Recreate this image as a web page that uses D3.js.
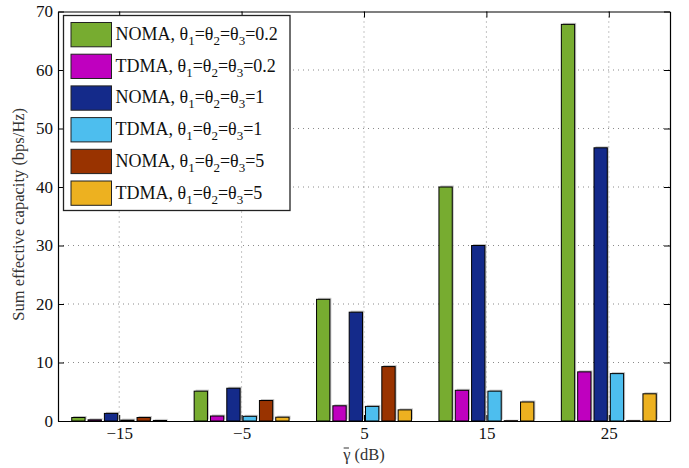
<!DOCTYPE html>
<html>
<head>
<meta charset="utf-8">
<script src="https://cdn.jsdelivr.net/npm/d3@7"></script>
<style>
  body { margin: 0; background: #fff; }
  svg text { font-family: "Liberation Serif", "Times New Roman", Times, serif; }
</style>
</head>
<body>
<svg id="chart" width="689" height="468"></svg>
<script>
// x positions (dB) and the six series
const gammas = [-15, -5, 5, 15, 25]
const noma02 = [0.6, 5.1, 20.8, 40.0, 67.8]
const tdma02 = [0.2, 0.85, 2.6, 5.25, 8.4]
const noma1  = [1.3, 5.6, 18.6, 30.0, 46.7]
const tdma1  = [0.15, 0.8, 2.5, 5.1, 8.1]
const noma5  = [0.6, 3.5, 9.3, 0.05, 0.05]
const tdma5  = [0.1, 0.65, 1.9, 3.25, 4.65]
const schemes = ["NOMA", "TDMA", "NOMA", "TDMA", "NOMA", "TDMA"]
const thetas  = ["0.2", "0.2", "1", "1", "5", "5"]
const colors  = ["#77AC30", "#BF00BF", "#142A8A", "#4DBEEE", "#993300", "#EDB120"]
const yTicks = [0, 10, 20, 30, 40, 50, 60, 70]
const allSeries = [noma02, tdma02, noma1, tdma1, noma5, tdma5]

const serif = "'Liberation Serif', 'Times New Roman', Times, serif"
const margin = {top: 11.5, right: 19, bottom: 47, left: 58}
const width = 689 - margin.left - margin.right,
      height = 468 - margin.top - margin.bottom

const svg = d3.select("#chart")
const chart = svg.append("g")
    .attr("transform", "translate(" + margin.left + "," + margin.top + ")")

let x = d3.scaleLinear().domain([-20, 30]).range([0, width])
let y = d3.scaleLinear().domain([0, 70]).range([height, 0])

// matlab style grouped bars: group takes 0.8 of the spacing
let groupW = 0.8 * (x(10) - x(0))
let inner = d3.scaleBand()
    .domain(d3.range(allSeries.length))
    .range([-groupW / 2, groupW / 2])
    .paddingInner(0.185)
    .paddingOuter(0.0925)

// dotted grid
chart.append("g").selectAll("line")
    .data(yTicks.slice(1, -1))
  .enter().append("line")
    .attr("x1", 0).attr("x2", width)
    .attr("y1", d => y(d)).attr("y2", d => y(d))
    .attr("stroke", "#8a8a8a").attr("stroke-dasharray", "1,4")
chart.append("g").selectAll("line")
    .data(gammas)
  .enter().append("line")
    .attr("x1", d => x(d)).attr("x2", d => x(d))
    .attr("y1", 0).attr("y2", height)
    .attr("stroke", "#8a8a8a").attr("stroke-dasharray", "1,4")

// bars
let bars = []
allSeries.forEach((s, i) => s.forEach((v, j) => bars.push({s: i, g: gammas[j], v: v})))

let barG = chart.append("g")
barG.selectAll(".shadow")
    .data(bars)
  .enter().append("rect")
    .attr("class", "shadow")
    .attr("x", d => x(d.g) + inner(d.s) + 1.5)
    .attr("y", d => y(d.v) - 1.5)
    .attr("width", inner.bandwidth())
    .attr("height", d => height - y(d.v))
    .attr("fill", "#c4c4c4")
barG.selectAll(".bar")
    .data(bars)
  .enter().append("rect")
    .attr("class", "bar")
    .attr("x", d => x(d.g) + inner(d.s))
    .attr("y", d => y(d.v))
    .attr("width", inner.bandwidth())
    .attr("height", d => height - y(d.v))
    .attr("fill", d => colors[d.s])
    .attr("stroke", "#000")
    .attr("stroke-width", 1)

// axes, ticks pointing inwards on all four sides
let fmt = d => d < 0 ? "\u2212" + Math.abs(d) : d
let xAxis = chart.append("g")
    .attr("transform", "translate(0," + height + ")")
    .call(d3.axisBottom(x).tickValues(gammas).tickSizeInner(-6).tickSizeOuter(0).tickPadding(6).tickFormat(fmt))
let xTop = chart.append("g")
    .call(d3.axisTop(x).tickValues(gammas).tickSizeInner(-6).tickSizeOuter(0).tickFormat(""))
let yAxis = chart.append("g")
    .call(d3.axisLeft(y).tickValues(yTicks).tickSizeInner(-6).tickSizeOuter(0).tickPadding(5))
let yRight = chart.append("g")
    .attr("transform", "translate(" + width + ",0)")
    .call(d3.axisRight(y).tickValues(yTicks).tickSizeInner(-6).tickSizeOuter(0).tickFormat(""))

;[xAxis, xTop, yAxis, yRight].forEach(a => {
  a.attr("font-family", serif)
  a.select(".domain").attr("stroke", "#000").attr("stroke-width", 1.2)
  a.selectAll(".tick line").attr("stroke", "#000")
  a.selectAll("text")
    .attr("font-family", serif)
    .attr("font-size", 17)
    .attr("fill", "#111")
})

// axis titles
let xLab = chart.append("text")
    .attr("x", x(5))
    .attr("y", height + 38.5)
    .attr("text-anchor", "middle")
    .attr("font-family", serif)
    .attr("font-size", 16.5)
    .attr("fill", "#333")
    .text("\u03B3 (dB)")
// bar over gamma
let lb = xLab.node().getBBox()
let gw = xLab.node().getSubStringLength(0, 1)
chart.append("line")
    .attr("x1", lb.x + 1.5).attr("x2", lb.x + gw - 0.5)
    .attr("y1", height + 27).attr("y2", height + 27)
    .attr("stroke", "#333").attr("stroke-width", 1)

chart.append("text")
    .attr("transform", "translate(" + (-34) + "," + (height / 2 - 2) + ") rotate(-90)")
    .attr("text-anchor", "middle")
    .attr("font-family", serif)
    .attr("font-size", 16.5)
    .attr("fill", "#333")
    .text("Sum effective capacity (bps/Hz)")

// legend
let legend = chart.append("g").attr("transform", "translate(5.5,4)")
legend.append("rect")
    .attr("width", 226.5).attr("height", 195)
    .attr("fill", "#fff").attr("stroke", "#222").attr("stroke-width", 1.3)

let rows = legend.selectAll(".row")
    .data(d3.range(schemes.length))
  .enter().append("g")
    .attr("transform", d => "translate(7.5," + (7 + d * 31.7) + ")")
rows.append("rect")
    .attr("width", 40.5).attr("height", 24.3)
    .attr("fill", d => colors[d])
    .attr("stroke", "#222")
let label = rows.append("text")
    .attr("x", 44.5)
    .attr("y", 17.5)
    .attr("font-family", serif)
    .attr("font-size", 18)
    .attr("fill", "#111")
label.each(function(d) {
  let t = d3.select(this)
  t.append("tspan").text(schemes[d] + ", \u03B8")
  t.append("tspan").attr("dy", 5).attr("font-size", 13).text("1")
  t.append("tspan").attr("dy", -5).text("=\u03B8")
  t.append("tspan").attr("dy", 5).attr("font-size", 13).text("2")
  t.append("tspan").attr("dy", -5).text("=\u03B8")
  t.append("tspan").attr("dy", 5).attr("font-size", 13).text("3")
  t.append("tspan").attr("dy", -5).text("=" + thetas[d])
})
</script>
</body>
</html>
